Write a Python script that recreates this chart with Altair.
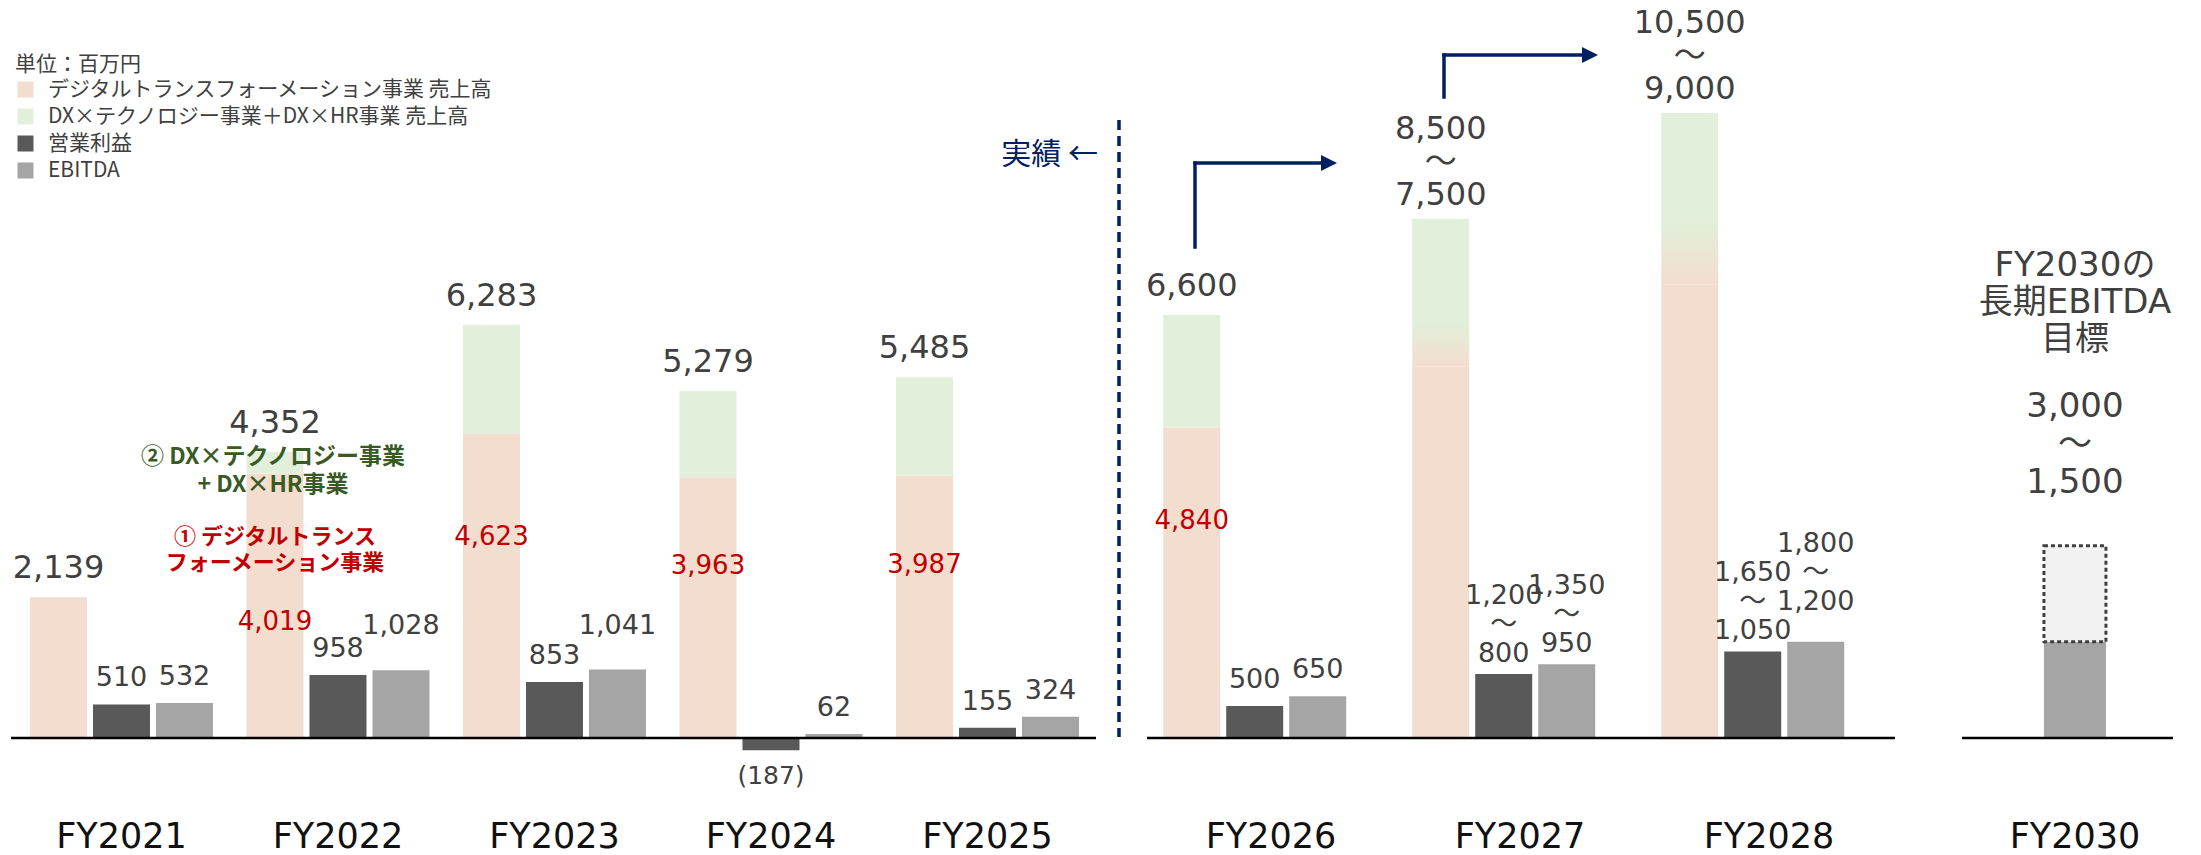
import altair as alt
import pandas as pd

# ---------------- data (百万円) ----------------
YEARS_ACT = ["FY2021", "FY2022", "FY2023", "FY2024", "FY2025"]
DT_ACT = [2139, 4019, 4623, 3963, 3987]            # デジタルトランスフォーメーション事業 売上高
TOTAL_ACT = [2139, 4352, 6283, 5279, 5485]         # 売上高 合計
OP_ACT = [510, 958, 853, -187, 155]                # 営業利益
EBITDA_ACT = [532, 1028, 1041, 62, 324]            # EBITDA

YEARS_PLAN = ["FY2026", "FY2027", "FY2028"]
TOTAL_PLAN_HI = [6600, 8500, 10500]
TOTAL_PLAN_LO = [6600, 7500, 9000]
TOTAL_PLAN_BAR = [6600, 8100, 9750]                # drawn bar height
DT_PLAN = [4840, 5800, 7070]                       # pink part
BLEND_TOP_PLAN = [4840, 6490, 8080]                # top of pink->green fade
OP_PLAN_HI = [500, 1200, 1650]
OP_PLAN_LO = [500, 800, 1050]
OP_PLAN_BAR = [500, 1000, 1350]
EBITDA_PLAN_HI = [650, 1350, 1800]
EBITDA_PLAN_LO = [650, 950, 1200]
EBITDA_PLAN_BAR = [650, 1150, 1500]

YEARS_LONG = ["FY2030"]
EBITDA_LONG_LO = [1500]
EBITDA_LONG_HI = [3000]

SERIES = ["デジタルトランスフォーメーション事業 売上高",
          "DX×テクノロジー事業＋DX×HR事業 売上高",
          "営業利益", "EBITDA"]

# ---------------- style ----------------
PINK, GREEN, DARK, LIGHT = "#F3DDCF", "#E2EFDA", "#595959", "#A5A5A5"
COLORS = [PINK, GREEN, DARK, LIGHT]
TXT, RED, OLIVE, NAVY = "#404040", "#C00000", "#3A5A24", "#002060"
NUM_FONT = "DejaVu Sans, Noto Sans CJK JP"
JP_FONT = "Noto Sans CJK JP"
H, BASE = 855, 738
K1, K2 = 15.2, 15.6
Y1 = [-(H - BASE) * K1, BASE * K1]
Y2 = [-(H - BASE) * K2, BASE * K2]
SLOTS = ["rev", "op", "ebitda"]
RED_POS = {"FY2022": 0.44, "FY2026": 0.70}
TOT_FS, TOT_LH = 32, 33
SUB_FS, SUB_LH = 27, 29


def fmt(v):
    return f"({abs(v):,})" if v < 0 else f"{v:,}"


def rng(hi, lo):
    return fmt(hi) if hi == lo else f"{hi:,}\n～\n{lo:,}"


def xenc(domain, po, align, pi=0):
    return alt.X("year:N", scale=alt.Scale(domain=domain, paddingInner=pi,
                                           paddingOuter=po, align=align), axis=None)


def xoenc(pi, po):
    return alt.XOffset("slot:N", scale=alt.Scale(domain=SLOTS, paddingInner=pi,
                                                 paddingOuter=po))


def yenc(field, dom):
    return alt.Y(f"{field}:Q", scale=alt.Scale(domain=dom, nice=False, zero=False),
                 axis=None)


COLOR = alt.Color("series:N", scale=alt.Scale(domain=SERIES, range=COLORS),
                  legend=alt.Legend(title="単位：百万円", orient="none",
                                    legendX=15, legendY=54, padding=0,
                                    titleFont=JP_FONT, titleFontSize=21,
                                    titleFontWeight="normal", titleColor=TXT,
                                    titlePadding=4, labelFont=JP_FONT,
                                    labelFontSize=21, labelColor=TXT,
                                    labelLimit=900, labelOffset=12,
                                    symbolType="square", symbolSize=256,
                                    symbolStrokeWidth=0, symbolOpacity=1,
                                    rowPadding=5))

DUMMY = pd.DataFrame({"d": [0]})


def above_labels(df, X, XO, Y, fs, lh):
    """Labels sitting above a bar top; df has year, slot, ty, label, gap (px)."""
    df = df.copy()
    nlines = df["label"].str.count("\n")
    df["dy"] = (-(df["gap"] - 0.21 * fs) - nlines * lh).round().astype(int)
    layers = []
    for dy in sorted(df["dy"].unique()):
        part = df[df["dy"] == dy]
        layers.append(alt.Chart(part).mark_text(
            baseline="bottom", dy=int(dy), fontSize=fs, font=NUM_FONT, color=TXT,
            lineBreak="\n", lineHeight=lh).encode(
            x=X, xOffset=XO, y=yenc("ty", Y), text="label:N"))
    return layers


def sub_gap(label, lifted):
    multi = "\n" in label
    if multi:
        return 32 if lifted else 12
    return 36 if lifted else 18


def fy_labels(years, X):
    return alt.Chart(pd.DataFrame({"year": years})).mark_text(
        baseline="alphabetic", fontSize=35, font=NUM_FONT, color="#111111",
        clip=True).encode(x=X, y=alt.value(848), text="year:N")


def baseline(x0, x1, Y):
    return alt.Chart(DUMMY).mark_rule(color="#000000", strokeWidth=2.5).encode(
        x=alt.value(x0), x2=alt.value(x1), y=alt.Y(datum=0, scale=alt.Scale(
            domain=Y, nice=False, zero=False), axis=None))


# ================= panel 1: actuals =================
X1 = xenc(YEARS_ACT, 0.0912, 0.335)
XO1 = xoenc(0.0952, 0.266)

rows = []
for i, yr in enumerate(YEARS_ACT):
    rows.append((yr, "rev", SERIES[0], 0, DT_ACT[i]))
    if TOTAL_ACT[i] > DT_ACT[i]:
        rows.append((yr, "rev", SERIES[1], DT_ACT[i], TOTAL_ACT[i]))
    rows.append((yr, "op", SERIES[2], 0, OP_ACT[i]))
    rows.append((yr, "ebitda", SERIES[3], 0, EBITDA_ACT[i]))
bars1 = pd.DataFrame(rows, columns=["year", "slot", "series", "y0", "y1"])

tot1 = pd.DataFrame({"year": YEARS_ACT, "slot": "rev", "ty": TOTAL_ACT,
                     "label": [fmt(v) for v in TOTAL_ACT], "gap": 19})
red1 = pd.DataFrame([(yr, "rev", DT_ACT[i] * RED_POS.get(yr, 0.66), fmt(DT_ACT[i]))
                     for i, yr in enumerate(YEARS_ACT) if TOTAL_ACT[i] > DT_ACT[i]],
                    columns=["year", "slot", "ty", "label"])
sub_rows, neg_rows = [], []
for i, yr in enumerate(YEARS_ACT):
    for slot, v in (("op", OP_ACT[i]), ("ebitda", EBITDA_ACT[i])):
        if v < 0:
            neg_rows.append((yr, slot, v, fmt(v)))
        else:
            lab = fmt(v)
            sub_rows.append((yr, slot, v, lab,
                             sub_gap(lab, slot == "ebitda" and v >= 1000)))
sub1 = pd.DataFrame(sub_rows, columns=["year", "slot", "ty", "label", "gap"])
neg1 = pd.DataFrame(neg_rows, columns=["year", "slot", "v", "label"])

p1_layers = [
    alt.Chart(bars1).mark_bar().encode(x=X1, xOffset=XO1, y=yenc("y0", Y1),
                                       y2="y1:Q", color=COLOR),
    baseline(11, 1096, Y1),
    *above_labels(tot1, X1, XO1, Y1, TOT_FS, TOT_LH),
    alt.Chart(red1).mark_text(baseline="middle", fontSize=26, font=NUM_FONT,
                              color=RED).encode(
        x=X1, xOffset=XO1, y=yenc("ty", Y1), text="label:N"),
    *above_labels(sub1, X1, XO1, Y1, SUB_FS, SUB_LH),
    alt.Chart(neg1).mark_text(baseline="top", dy=14, fontSize=25, font=NUM_FONT,
                              color=TXT).encode(
        x=X1, xOffset=XO1, y=yenc("v", Y1), text="label:N"),
    fy_labels(YEARS_ACT, X1),
    alt.Chart(pd.DataFrame({"t": ["② DX×テクノロジー事業\n+ DX×HR事業"]})).mark_text(
        baseline="middle", align="center", fontSize=23, font=JP_FONT,
        fontWeight="bold", color=OLIVE, lineBreak="\n", lineHeight=28).encode(
        x=alt.value(273), y=alt.value(457), text="t:N"),
    alt.Chart(pd.DataFrame({"t": ["① デジタルトランス\nフォーメーション事業"]})).mark_text(
        baseline="middle", align="center", fontSize=22, font=JP_FONT,
        fontWeight="bold", color=RED, lineBreak="\n", lineHeight=26).encode(
        x=alt.value(275), y=alt.value(537), text="t:N"),
    alt.Chart(DUMMY).mark_rule(color=NAVY, strokeWidth=3.5, strokeDash=[10, 6]).encode(
        x=alt.value(1119), y=alt.value(120), y2=alt.value(737)),
    alt.Chart(pd.DataFrame({"t": ["実績 ←"]})).mark_text(
        align="right", baseline="middle", fontSize=30, font=JP_FONT,
        color=NAVY).encode(x=alt.value(1098), y=alt.value(155), text="t:N"),
]
p1 = alt.layer(*p1_layers).properties(width=1122, height=H)

# ================= panel 2: plan =================
X2 = xenc(YEARS_PLAN, 0.1867, 0.263)
XO2 = xoenc(0.189, 0.277)

rows, blend = [], []
for i, yr in enumerate(YEARS_PLAN):
    rows.append((yr, "rev", SERIES[0], 0, DT_PLAN[i]))
    if BLEND_TOP_PLAN[i] > DT_PLAN[i]:
        blend.append((yr, "rev", DT_PLAN[i], BLEND_TOP_PLAN[i]))
    rows.append((yr, "rev", SERIES[1], BLEND_TOP_PLAN[i], TOTAL_PLAN_BAR[i]))
    rows.append((yr, "op", SERIES[2], 0, OP_PLAN_BAR[i]))
    rows.append((yr, "ebitda", SERIES[3], 0, EBITDA_PLAN_BAR[i]))
bars2 = pd.DataFrame(rows, columns=["year", "slot", "series", "y0", "y1"])
blend2 = pd.DataFrame(blend, columns=["year", "slot", "y0", "y1"])

tot_lab2 = [rng(h, l) for h, l in zip(TOTAL_PLAN_HI, TOTAL_PLAN_LO)]
tot2 = pd.DataFrame({"year": YEARS_PLAN, "slot": "rev", "ty": TOTAL_PLAN_BAR,
                     "label": tot_lab2,
                     "gap": [14 if "\n" in s else 19 for s in tot_lab2]})
red2 = pd.DataFrame([(YEARS_PLAN[0], "rev", DT_PLAN[0] * RED_POS.get(YEARS_PLAN[0], 0.66),
                      fmt(DT_PLAN[0]))], columns=["year", "slot", "ty", "label"])
sub_rows = []
for i, yr in enumerate(YEARS_PLAN):
    lab = rng(OP_PLAN_HI[i], OP_PLAN_LO[i])
    sub_rows.append((yr, "op", OP_PLAN_BAR[i], lab, sub_gap(lab, False)))
    lab = rng(EBITDA_PLAN_HI[i], EBITDA_PLAN_LO[i])
    sub_rows.append((yr, "ebitda", EBITDA_PLAN_BAR[i], lab,
                     sub_gap(lab, EBITDA_PLAN_LO[i] >= 1000)))
sub2 = pd.DataFrame(sub_rows, columns=["year", "slot", "ty", "label", "gap"])

FADE = alt.Gradient(gradient="linear",
                    stops=[alt.GradientStop(color=PINK, offset=0),
                           alt.GradientStop(color=GREEN, offset=1)],
                    x1=0, x2=0, y1=1, y2=0)


def arrow(xv, y_bottom, y_top, x_tip):
    return [
        alt.Chart(DUMMY).mark_rule(color=NAVY, strokeWidth=3.5, strokeCap="square").encode(
            x=alt.value(xv), y=alt.value(y_bottom), y2=alt.value(y_top)),
        alt.Chart(DUMMY).mark_rule(color=NAVY, strokeWidth=3.5, strokeCap="square").encode(
            x=alt.value(xv), x2=alt.value(x_tip - 14), y=alt.value(y_top)),
        alt.Chart(DUMMY).mark_point(shape="M-1,-1L1,0L-1,1Z", filled=True, opacity=1,
                                    size=256, color=NAVY).encode(
            x=alt.value(x_tip - 8), y=alt.value(y_top)),
    ]


p2_layers = [
    alt.Chart(bars2).mark_bar().encode(x=X2, xOffset=XO2, y=yenc("y0", Y2),
                                       y2="y1:Q", color=COLOR),
    alt.Chart(blend2).mark_bar(color=FADE).encode(x=X2, xOffset=XO2,
                                                  y=yenc("y0", Y2), y2="y1:Q"),
    baseline(25, 773, Y2),
    *above_labels(tot2, X2, XO2, Y2, TOT_FS, TOT_LH),
    alt.Chart(red2).mark_text(baseline="middle", fontSize=26, font=NUM_FONT,
                              color=RED).encode(
        x=X2, xOffset=XO2, y=yenc("ty", Y2), text="label:N"),
    *above_labels(sub2, X2, XO2, Y2, SUB_FS, SUB_LH),
    fy_labels(YEARS_PLAN, X2),
    *arrow(73, 247, 163, 215),
    *arrow(322, 97, 55, 476),
]
p2 = alt.layer(*p2_layers).properties(width=840, height=H)

# ================= panel 3: FY2030 target =================
X3 = xenc(YEARS_LONG, 1.0, 0.463, pi=0.2994)
long3 = pd.DataFrame({"year": YEARS_LONG, "lo": EBITDA_LONG_LO, "hi": EBITDA_LONG_HI,
                      "zero": [0] * len(YEARS_LONG),
                      "label": [rng(h, l) for h, l in zip(EBITDA_LONG_HI, EBITDA_LONG_LO)],
                      "title": ["FY2030の\n長期EBITDA\n目標"] * len(YEARS_LONG)})
p3_layers = [
    alt.Chart(long3).mark_bar(color=LIGHT).encode(x=X3, y=yenc("zero", Y2), y2="lo:Q"),
    alt.Chart(long3).mark_bar(fill="#F2F2F2", stroke="#404040", strokeWidth=3,
                              strokeDash=[4, 3]).encode(x=X3, y=yenc("lo", Y2), y2="hi:Q"),
    baseline(0, 211, Y2),
    alt.Chart(long3).mark_text(baseline="middle", fontSize=34, font=NUM_FONT, color=TXT,
                               lineBreak="\n", lineHeight=37).encode(
        x=X3, y=alt.value(266), text="title:N"),
    alt.Chart(long3).mark_text(baseline="middle", fontSize=34, font=NUM_FONT, color=TXT,
                               lineBreak="\n", lineHeight=38).encode(
        x=X3, y=alt.value(407), text="label:N"),
    fy_labels(YEARS_LONG, X3),
]
p3 = alt.layer(*p3_layers).properties(width=239, height=H)

chart = alt.hconcat(p1, p2, p3, spacing=0, bounds="flush").properties(
    padding=0, background="white").configure_view(strokeWidth=0)

chart.save("out.html", embed_options={"renderer": "svg", "actions": False})
